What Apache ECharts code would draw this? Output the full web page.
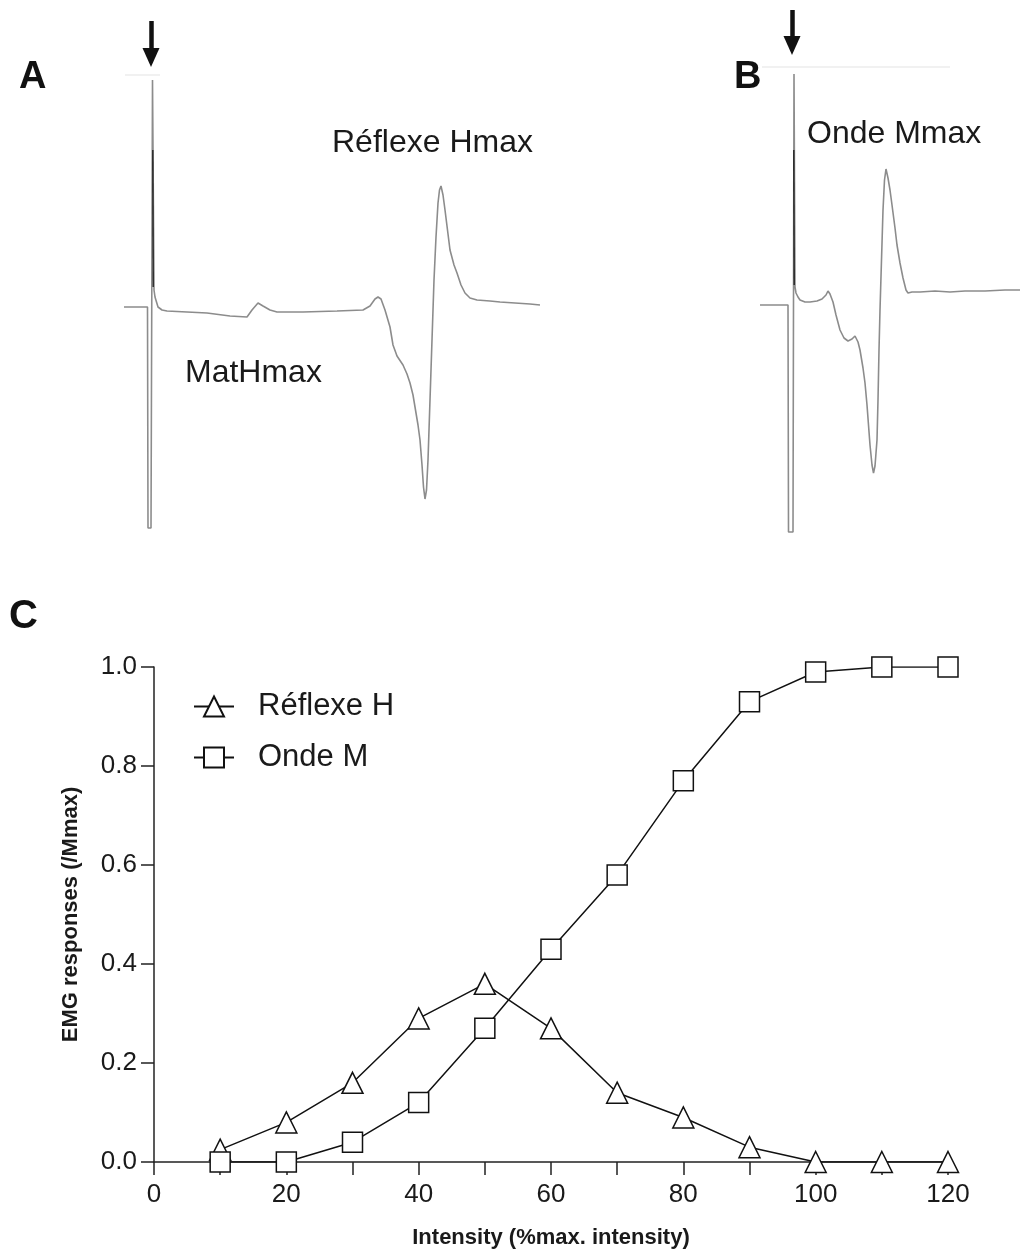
<!DOCTYPE html>
<html>
<head>
<meta charset="utf-8">
<script src="https://cdn.jsdelivr.net/npm/echarts@6/dist/echarts.min.js"></script>
<style>
html,body{margin:0;padding:0;background:#fff;}
#c{width:1020px;height:1256px;}
</style>
</head>
<body>
<div id="c"></div>
<script>
// ---- Panel C data ----
const intensity = [10, 20, 30, 40, 50, 60, 70, 80, 90, 100, 110, 120];
const reflexH   = [0.025, 0.08, 0.16, 0.29, 0.36, 0.27, 0.14, 0.09, 0.03, 0.0, 0.0, 0.0];
const ondeM     = [0.0, 0.0, 0.04, 0.12, 0.27, 0.43, 0.58, 0.77, 0.93, 0.99, 1.0, 1.0];
const yTicks = [0, 0.2, 0.4, 0.6, 0.8, 1.0];
const xTicks = [0, 20, 40, 60, 80, 100, 120];

// ---- Panel A trace: [time ms from stimulus, amplitude mV] ----
const traceA = [
  [-2.8,0],[-0.45,0],[-0.4,-4.42],[-0.25,-4.42],[-0.1,-4.42],[0.05,4.54],[0.2,0.34],[0.3,0.2],[0.6,0],
  [1.0,-0.06],[1.5,-0.08],[3.5,-0.1],[5.5,-0.12],[7.8,-0.18],[9.5,-0.2],[10.0,-0.06],[10.6,0.08],
  [11.1,0.02],[11.8,-0.06],[12.5,-0.1],[15.1,-0.1],[18.5,-0.08],[21.1,-0.06],[21.8,0.02],[22.3,0.16],
  [22.6,0.2],[22.9,0.16],[23.3,-0.06],[23.8,-0.4],[24.1,-0.76],[24.5,-0.98],[25.1,-1.16],[25.5,-1.34],
  [25.8,-1.52],[26.1,-1.76],[26.3,-2.0],[26.6,-2.36],[26.8,-2.66],[27.0,-3.16],[27.15,-3.6],[27.3,-3.84],
  [27.45,-3.66],[27.6,-3.06],[27.8,-1.86],[28.0,-0.66],[28.2,0.54],[28.4,1.4],[28.6,2.08],[28.75,2.34],
  [28.9,2.42],[29.1,2.24],[29.3,1.94],[29.55,1.54],[29.8,1.14],[30.2,0.84],[30.5,0.68],[30.9,0.44],
  [31.3,0.28],[31.8,0.18],[32.5,0.14],[33.8,0.12],[34.8,0.1],[36.3,0.08],[37.8,0.06],[38.8,0.04]
];
const artifactA = [[0.08,3.14],[0.12,0.4]];

// ---- Panel B trace ----
const traceB = [
  [-3.2,0],[-0.4,0],[-0.35,-4.54],[-0.2,-4.54],[0.1,-4.54],[0.2,4.62],[0.3,0.36],[0.4,0.24],[0.6,0.16],
  [0.8,0.1],[1.3,0.06],[1.8,0.06],[2.5,0.08],[3.0,0.12],[3.4,0.2],[3.6,0.28],[3.8,0.22],[4.1,0.06],
  [4.4,-0.2],[4.8,-0.5],[5.2,-0.66],[5.6,-0.72],[6.0,-0.68],[6.3,-0.62],[6.6,-0.74],[6.8,-0.9],
  [7.1,-1.26],[7.3,-1.56],[7.5,-2.0],[7.65,-2.4],[7.8,-2.8],[8.0,-3.2],[8.15,-3.36],[8.3,-3.22],
  [8.5,-2.7],[8.6,-1.9],[8.7,-0.9],[8.8,-0.1],[8.95,0.9],[9.1,1.9],[9.25,2.5],[9.4,2.72],[9.6,2.54],
  [9.8,2.3],[10.0,2.0],[10.3,1.54],[10.5,1.2],[10.8,0.84],[11.1,0.54],[11.4,0.3],[11.6,0.24],
  [12.0,0.26],[12.8,0.26],[14.3,0.28],[15.8,0.26],[17.3,0.28],[19.3,0.28],[21.3,0.3],[22.8,0.3]
];
const artifactB = [[0.18,3.1],[0.22,0.4]];

// stimulus arrows [t, vTop, vTip] and faint sweep lines [t0, t1, v]
const arrowA = [-0.1, 5.72, 4.99];
const arrowB = [0.0, 5.9, 5.19];
const sweepA = [-2.7, 0.8, 4.64];
const sweepB = [-3.0, 15.8, 4.76];

const FONT = "'Liberation Sans', Arial, Helvetica, sans-serif";
const TXT = '#1a1a1a';

function arrowMark(a, sw) {
  return {
    silent: true, animation: false,
    label: {show: false},
    data: [
      [{coord: [a[0], a[1]], symbol: 'none', lineStyle: {color: '#111', width: 4.5, type: 'solid'}},
       {coord: [a[0], a[2]], symbol: 'triangle', symbolSize: [17, 19]}],
      [{coord: [sw[0], sw[2]], symbol: 'none', lineStyle: {color: '#ececec', width: 1.5, type: 'solid'}},
       {coord: [sw[1], sw[2]], symbol: 'none'}]
    ],
    symbol: ['none', 'triangle'],
    itemStyle: {color: '#111'}
  };
}

const chart = echarts.init(document.getElementById('c'), null, {renderer: 'canvas'});
const option = {
  animation: false,
  backgroundColor: '#fff',
  textStyle: {fontFamily: FONT},
  grid: [
    {left: 120, width: 430, top: 7, height: 530},
    {left: 760, width: 260, top: 5, height: 530},
    {left: 154, width: 794, top: 667, height: 495}
  ],
  xAxis: [
    {gridIndex: 0, type: 'value', min: -3.2, max: 39.8, show: false},
    {gridIndex: 1, type: 'value', min: -3.2, max: 22.8, show: false},
    {gridIndex: 2, type: 'value', min: 0, max: 120, interval: 10,
     name: 'Intensity (%max. intensity)', nameLocation: 'middle', nameGap: 65,
     nameTextStyle: {fontFamily: FONT, fontSize: 22, fontWeight: 'bold', color: TXT},
     axisLine: {show: true, lineStyle: {color: '#222', width: 1.5}},
     axisTick: {show: true, inside: false, length: 13, lineStyle: {color: '#222', width: 1.5}},
     axisLabel: {fontFamily: FONT, fontSize: 26, color: TXT, margin: 20,
       formatter: v => (xTicks.indexOf(v) >= 0 ? String(v) : '')},
     splitLine: {show: false}}
  ],
  yAxis: [
    {gridIndex: 0, type: 'value', min: -4.6, max: 6.0, show: false},
    {gridIndex: 1, type: 'value', min: -4.6, max: 6.0, show: false},
    {gridIndex: 2, type: 'value', min: 0, max: 1.0, interval: 0.2,
     name: 'EMG responses (/Mmax)', nameLocation: 'middle', nameGap: 72, nameRotate: 90,
     nameTextStyle: {fontFamily: FONT, fontSize: 22, fontWeight: 'bold', color: TXT},
     axisLine: {show: true, lineStyle: {color: '#222', width: 1.5}},
     axisTick: {show: true, inside: false, length: 13, lineStyle: {color: '#222', width: 1.5}},
     axisLabel: {fontFamily: FONT, fontSize: 26, color: TXT, margin: 17,
       formatter: v => (yTicks.some(t => Math.abs(t - v) < 1e-6) ? v.toFixed(1) : '')},
     splitLine: {show: false}}
  ],
  legend: {
    orient: 'vertical', left: 188, top: 686, itemWidth: 40, itemHeight: 25, itemGap: 20,
    data: ['Réflexe H', 'Onde M'],
    textStyle: {fontFamily: FONT, fontSize: 31, color: TXT, padding: [0, 0, 0, 19]}
  },
  series: [
    {type: 'line', xAxisIndex: 0, yAxisIndex: 0, data: traceA, showSymbol: false, symbol: 'none',
     lineStyle: {color: '#8c8c8c', width: 1.6}, silent: true, z: 2,
     markLine: arrowMark(arrowA, sweepA)},
    {type: 'line', xAxisIndex: 0, yAxisIndex: 0, data: artifactA, showSymbol: false, symbol: 'none',
     lineStyle: {color: '#222', width: 1.4}, silent: true, z: 3},
    {type: 'line', xAxisIndex: 1, yAxisIndex: 1, data: traceB, showSymbol: false, symbol: 'none',
     lineStyle: {color: '#8c8c8c', width: 1.6}, silent: true, z: 2,
     markLine: arrowMark(arrowB, sweepB)},
    {type: 'line', xAxisIndex: 1, yAxisIndex: 1, data: artifactB, showSymbol: false, symbol: 'none',
     lineStyle: {color: '#222', width: 1.4}, silent: true, z: 3},
    {name: 'Réflexe H', type: 'line', xAxisIndex: 2, yAxisIndex: 2,
     data: intensity.map((x, i) => [x, reflexH[i]]),
     symbol: 'triangle', symbolSize: 21, showSymbol: true,
     lineStyle: {color: '#111', width: 1.5},
     itemStyle: {color: '#fff', borderColor: '#111', borderWidth: 1.5}, z: 4},
    {name: 'Onde M', type: 'line', xAxisIndex: 2, yAxisIndex: 2,
     data: intensity.map((x, i) => [x, ondeM[i]]),
     symbol: 'rect', symbolSize: 20, showSymbol: true,
     lineStyle: {color: '#111', width: 1.5},
     itemStyle: {color: '#fff', borderColor: '#111', borderWidth: 1.5}, z: 5}
  ],
  graphic: [
    {type: 'text', left: 19, top: 59, style: {text: 'A', font: "bold 38px " + FONT, fill: '#111'}},
    {type: 'text', left: 734, top: 59, style: {text: 'B', font: "bold 38px " + FONT, fill: '#111'}},
    {type: 'text', left: 9, top: 597, style: {text: 'C', font: "bold 40px " + FONT, fill: '#111'}},
    {type: 'text', left: 332, top: 127, style: {text: 'Réflexe Hmax', font: "32px " + FONT, fill: TXT}},
    {type: 'text', left: 185, top: 357, style: {text: 'MatHmax', font: "32px " + FONT, fill: TXT}},
    {type: 'text', left: 807, top: 118, style: {text: 'Onde Mmax', font: "32px " + FONT, fill: TXT}}
  ]
};
chart.setOption(option);
</script>
</body>
</html>
